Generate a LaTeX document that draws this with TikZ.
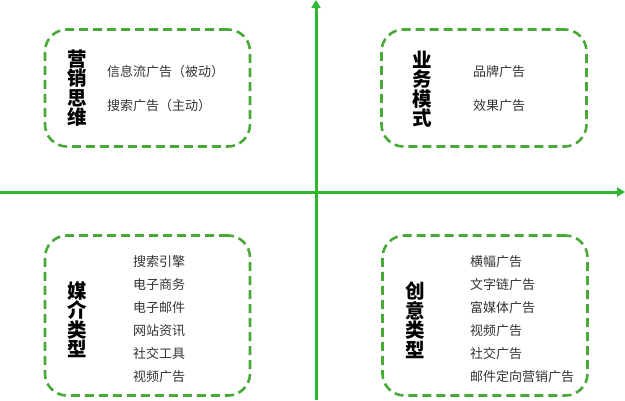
\documentclass[tikz,border=0pt]{standalone}
\usepackage{fontspec}
\setmainfont{Noto Sans CJK SC}
\usetikzlibrary{arrows.meta}
\definecolor{axisgreen}{HTML}{2EB82E}
\definecolor{boxgreen}{HTML}{48A838}
\definecolor{itemgray}{HTML}{333333}
\tikzset{
  quadbox/.style={draw=boxgreen, line width=2.6pt, dash pattern=on 9pt off 5pt, rounded corners=22pt, minimum width=205pt, minimum height=117pt, inner sep=0pt},
  bigbox/.style={quadbox, minimum height=160pt},
  title/.style={font=\fontsize{19.5}{19.5}\selectfont\bfseries, align=center, inner sep=0pt, text=black},
  item/.style={font=\fontsize{13}{14}\selectfont, anchor=west, inner sep=0pt, text=itemgray},
  axis/.style={draw=axisgreen, line width=3pt, -{Triangle[length=8pt,width=9pt]}}
}
\begin{document}
\begin{tikzpicture}[x=1pt,y=-1pt]
\useasboundingbox (0,0) rectangle (625,400);
% axes
\coordinate (vbot) at (316,400);
\coordinate (vtop) at (316,0);
\coordinate (hleft) at (0,192);
\coordinate (hright) at (625,192);
\draw[axis] (vbot) -- (vtop);
\draw[axis] (hleft) -- (hright);
% boxes
\node[quadbox] (b1) at (147.5,88) {};
\node[quadbox] (b2) at (484,88) {};
\node[bigbox] (b3) at (147.5,315.5) {};
\node[bigbox] (b4) at (485,315.5) {};
% titles
\node[title] (t1) at (77,88) {营\\销\\思\\维};
\node[title] (t2) at (422,89) {业\\务\\模\\式};
\node[title] (t3) at (77,320) {媒\\介\\类\\型};
\node[title] (t4) at (415,320) {创\\意\\类\\型};
% items top-left
\node[item] (i11) at (107,72) {信息流广告（被动）};
\node[item] (i12) at (107,106) {搜索广告（主动）};
% items top-right
\node[item] (i21) at (473,72) {品牌广告};
\node[item] (i22) at (473,106) {效果广告};
% items bottom-left
\node[item] (i31) at (133,262) {搜索引擎};
\node[item] (i32) at (133,285) {电子商务};
\node[item] (i33) at (133,308) {电子邮件};
\node[item] (i34) at (133,331) {网站资讯};
\node[item] (i35) at (133,354) {社交工具};
\node[item] (i36) at (133,377) {视频广告};
% items bottom-right
\node[item] (i41) at (470,262) {横幅广告};
\node[item] (i42) at (470,285) {文字链广告};
\node[item] (i43) at (470,308) {富媒体广告};
\node[item] (i44) at (470,331) {视频广告};
\node[item] (i45) at (470,354) {社交广告};
\node[item] (i46) at (470,377) {邮件定向营销广告};
\end{tikzpicture}
\end{document}
